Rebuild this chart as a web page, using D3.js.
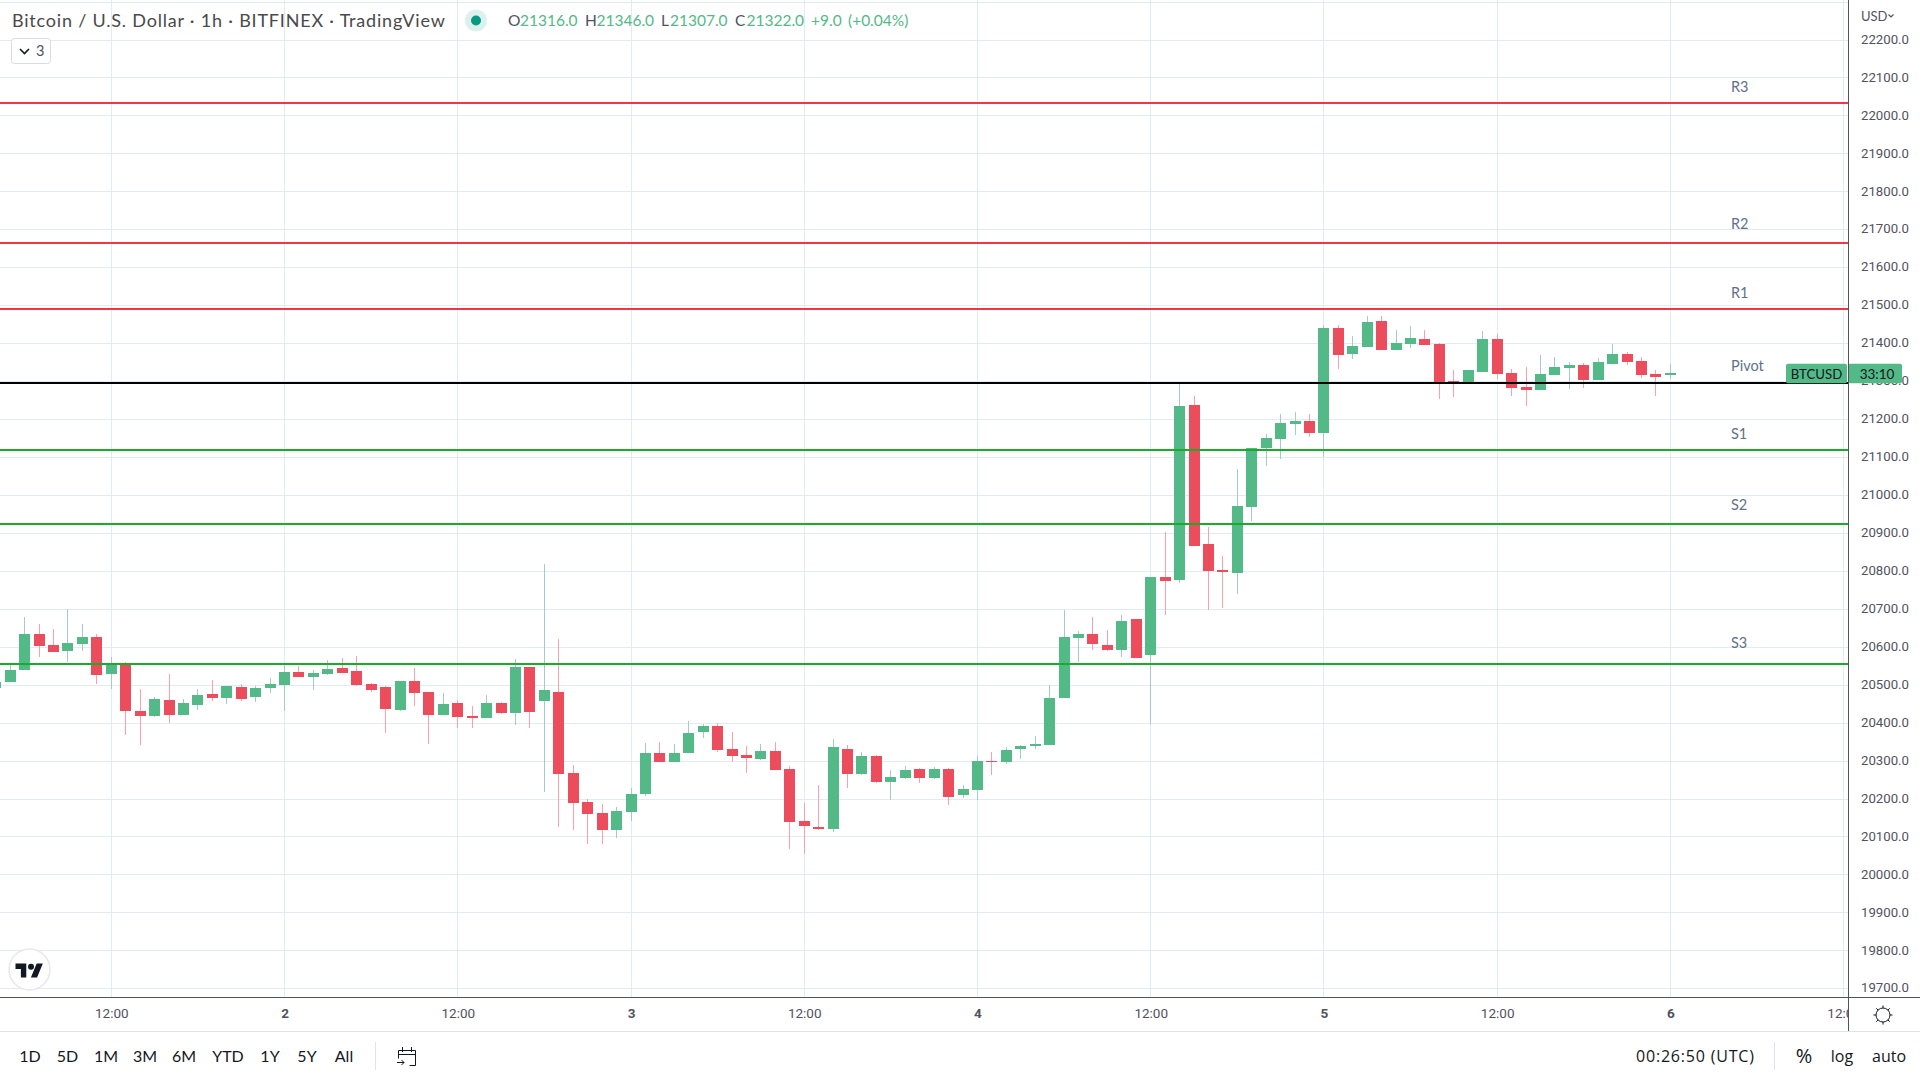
<!DOCTYPE html>
<html>
  <head>
    <meta charset="utf-8">
    <title>BTCUSD</title>
    <script src="https://d3js.org/d3.v7.min.js"></script>
    <style>
      html, body { margin: 0; padding: 0; background: #fff; overflow: hidden; }
      svg { display: block; }
      text { font-family: Lato, sans-serif; }
    </style>
  </head>
  <body>
  <svg width="1920" height="1080"></svg>
  <script>

  // hourly candles, hour 0 = day 1 00:00
  var firstHour = 4;
  var opens = [20493,20508,20540,20635,20606,20590,20608,20627,20529,20553,20432,20419,20461,20421,20448,20477,20466,20495,20469,20493,20500,20535,20521,20529,20545,20537,20503,20495,20435,20511,20482,20421,20453,20419,20413,20453,20427,20548,20458,20482,20269,20192,20163,20118,20166,20213,20321,20298,20321,20377,20392,20332,20316,20305,20327,20279,20142,20126,20121,20332,20266,20313,20245,20255,20279,20255,20279,20211,20224,20300,20298,20332,20340,20342,20466,20624,20635,20606,20593,20674,20579,20785,20777,21238,20872,20803,20796,20969,21125,21149,21188,21196,21164,21441,21373,21391,21460,21383,21399,21412,21399,21302,21299,21325,21412,21323,21286,21278,21317,21336,21344,21304,21346,21373,21354,21320,21316];
  var highs = [20508,20553,20680,20661,20648,20701,20661,20635,20574,20561,20490,20469,20529,20464,20490,20514,20498,20503,20498,20519,20553,20550,20540,20566,20572,20577,20506,20498,20511,20545,20482,20479,20461,20445,20474,20456,20569,20548,20819,20622,20290,20200,20187,20179,20229,20348,20350,20345,20406,20398,20400,20377,20340,20345,20350,20287,20190,20237,20358,20342,20324,20316,20276,20287,20282,20284,20282,20237,20313,20324,20337,20342,20366,20500,20698,20643,20680,20645,20685,20674,20785,20904,21295,21262,20917,20840,21070,21125,21162,21214,21220,21214,21449,21449,21420,21473,21473,21436,21446,21436,21402,21331,21331,21433,21425,21333,21338,21370,21365,21352,21349,21362,21399,21378,21365,21331,21346];
  var lows = [20493,20508,20540,20574,20587,20561,20590,20503,20490,20369,20342,20416,20400,20421,20435,20458,20450,20458,20456,20479,20432,20521,20487,20527,20532,20498,20482,20374,20432,20445,20345,20421,20387,20387,20413,20424,20395,20387,20219,20126,20118,20082,20082,20097,20142,20208,20298,20298,20321,20361,20324,20298,20269,20303,20276,20068,20055,20118,20113,20229,20263,20242,20197,20253,20242,20253,20184,20203,20197,20263,20292,20305,20332,20342,20466,20561,20593,20590,20574,20572,20398,20685,20769,20867,20698,20703,20740,20933,21077,21096,21159,21154,21101,21333,21359,21391,21383,21383,21388,21396,21254,21259,21299,21325,21307,21262,21236,21278,21317,21280,21283,21304,21346,21344,21309,21262,21307];
  var closes = [20508,20540,20635,20603,20587,20611,20627,20527,20556,20432,20419,20464,20421,20453,20474,20466,20498,20464,20493,20503,20535,20521,20532,20543,20532,20500,20487,20437,20511,20479,20421,20450,20416,20413,20453,20427,20548,20429,20487,20266,20190,20161,20118,20168,20213,20321,20298,20321,20374,20392,20329,20313,20308,20327,20276,20139,20129,20121,20337,20266,20313,20245,20258,20276,20255,20279,20205,20226,20300,20298,20329,20340,20345,20466,20627,20635,20608,20593,20669,20572,20785,20774,21236,20867,20801,20798,20972,21125,21151,21191,21196,21164,21441,21370,21394,21457,21383,21402,21415,21396,21299,21299,21331,21412,21320,21283,21278,21320,21338,21344,21304,21352,21373,21352,21317,21312,21322];

  var priceTicks = [19700,19800,19900,20000,20100,20200,20300,20400,20500,20600,20700,20800,20900,21000,21100,21200,21300,21400,21500,21600,21700,21800,21900,22000,22100,22200];
  var gridTopPrice = 22300;
  var timeTicks = [12,24,36,48,60,72,84,96,108,120,132];
  var timeLabels = ["12:00","2","12:00","3","12:00","4","12:00","5","12:00","6","12:00"];

  var levelNames = ["R3","R2","R1","Pivot","S1","S2","S3"];
  var levelPrices = [22034,21666,21491,21296,21120,20925,20556];
  var levelLabelPrices = [22076,21715,21533,21341,21162,20975,20611];
  var levelColors = ["#f23645","#f23645","#f23645","#000000","#1aab2a","#1aab2a","#1aab2a"];

  var rangeButtons = ["1D","5D","1M","3M","6M","YTD","1Y","5Y","All"];
  var rangeCenters = [30,67.5,106,145,184,228,270,307,344];

  var up = "#53b987", down = "#eb4d5c", upWick = "#a3cbc9", downWick = "#f7a1ad";
  var gridColor = "#e1ecf2", axisColor = "#50535e", textColor = "#4a4a4a";

  var plotRight = 1848, plotBottom = 997;

  var svg = d3.select("svg");

  var x = d3.scaleLinear().domain([12, 120]).range([111.3, 1670.4]);
  var y = d3.scaleLinear().domain([19700, 22200]).range([988.75, 40]);

  svg.append("clipPath").attr("id", "plot")
    .append("rect").attr("width", plotRight).attr("height", plotBottom);
  svg.append("clipPath").attr("id", "timeaxis")
    .append("rect").attr("y", plotBottom).attr("width", plotRight).attr("height", 40);

  var plot = svg.append("g").attr("clip-path", "url(#plot)");

  // grid
  var grid = plot.append("g").attr("shape-rendering", "crispEdges");
  grid.selectAll(".h").data(priceTicks.concat([gridTopPrice])).enter().append("line")
    .attr("x1", 0).attr("x2", plotRight)
    .attr("y1", function(d) { return Math.floor(y(d)) + 0.5; })
    .attr("y2", function(d) { return Math.floor(y(d)) + 0.5; })
    .attr("stroke", gridColor);
  grid.selectAll(".v").data(timeTicks).enter().append("line")
    .attr("y1", 0).attr("y2", plotBottom)
    .attr("x1", function(d) { return Math.floor(x(d)) + 0.5; })
    .attr("x2", function(d) { return Math.floor(x(d)) + 0.5; })
    .attr("stroke", gridColor);

  // candles
  var candles = plot.append("g").attr("shape-rendering", "crispEdges");
  var bars = opens.map(function(o, i) {
    return {hour: firstHour + i, o: o, h: highs[i], l: lows[i], c: closes[i]};
  });
  candles.selectAll(".wick").data(bars).enter().append("rect")
    .attr("x", function(d) { return Math.floor(x(d.hour)); })
    .attr("width", 1)
    .attr("y", function(d) { return y(d.h); })
    .attr("height", function(d) { return y(d.l) - y(d.h); })
    .attr("fill", function(d) { return d.c >= d.o ? upWick : downWick; });
  candles.selectAll(".body").data(bars).enter().append("rect")
    .attr("x", function(d) { return Math.floor(x(d.hour)) - 5; })
    .attr("width", 11)
    .attr("y", function(d) { return y(Math.max(d.o, d.c)); })
    .attr("height", function(d) { return Math.max(1, Math.abs(y(d.o) - y(d.c))); })
    .attr("fill", function(d) { return d.c >= d.o ? up : down; });

  // last price tag
  var lastY = y(closes[closes.length - 1]);
  svg.append("rect").attr("x", 1786).attr("y", lastY - 9.5).attr("width", 61).attr("height", 19.5)
    .attr("rx", 2).attr("fill", up);

  // price axis
  var priceAxis = d3.axisRight(y).tickValues(priceTicks).tickSize(0).tickPadding(0).tickFormat(d3.format(".1f"));
  var pa = svg.append("g").attr("transform", "translate(1861,-1)").call(priceAxis);
  pa.select(".domain").remove();
  pa.selectAll("text").style("font-family", "Roboto").style("font-size", "13.2px").attr("fill", axisColor);

  svg.append("rect").attr("x", 1848).attr("y", lastY - 9.5).attr("width", 54).attr("height", 19.5)
    .attr("rx", 2).attr("fill", up);
  svg.append("text").attr("x", 1816.5).attr("y", lastY + 5.5).attr("text-anchor", "middle")
    .style("font-size", "13.2px").attr("fill", "#131722").text("BTCUSD");
  svg.append("text").attr("x", 1877).attr("y", lastY + 5.5).attr("text-anchor", "middle")
    .style("font-size", "13.5px").attr("fill", "#131722").text("33:10");

  // pivot levels
  plot.selectAll(".level").data(levelPrices).enter().append("line")
    .attr("shape-rendering", "crispEdges")
    .attr("x1", 0).attr("x2", plotRight)
    .attr("y1", function(d) { return Math.round(y(d)); })
    .attr("y2", function(d) { return Math.round(y(d)); })
    .attr("stroke-width", 2)
    .attr("stroke", function(d, i) { return levelColors[i]; });
  svg.selectAll(".levelname").data(levelNames).enter().append("text")
    .attr("x", 1731)
    .attr("y", function(d, i) { return y(levelLabelPrices[i]) + 5; })
    .style("font-size", "14.5px")
    .attr("fill", "#5f7188")
    .text(function(d) { return d; });

  // time axis
  var timeAxis = d3.axisBottom(x).tickValues(timeTicks).tickSize(0).tickPadding(0)
    .tickFormat(function(d, i) { return timeLabels[i]; });
  var ta = svg.append("g").attr("clip-path", "url(#timeaxis)")
    .append("g").attr("transform", "translate(0,1008)").call(timeAxis);
  ta.select(".domain").remove();
  ta.selectAll("text").style("font-family", "Roboto").style("font-size", "13.5px")
    .attr("fill", axisColor)
    .style("font-weight", function(d, i) { return timeLabels[i].length == 1 ? "700" : "400"; });

  // frame
  var frame = svg.append("g").attr("shape-rendering", "crispEdges");
  frame.append("line").attr("x1", 0).attr("x2", 1920).attr("y1", 997.5).attr("y2", 997.5).attr("stroke", axisColor);
  frame.append("line").attr("x1", 1848.5).attr("x2", 1848.5).attr("y1", 0).attr("y2", 1031).attr("stroke", axisColor);
  frame.append("line").attr("x1", 0).attr("x2", 1920).attr("y1", 1031.5).attr("y2", 1031.5).attr("stroke", "#e0e3eb");
  frame.append("line").attr("x1", 375.5).attr("x2", 375.5).attr("y1", 1042).attr("y2", 1070).attr("stroke", "#e0e3eb");
  frame.append("line").attr("x1", 1774.5).attr("x2", 1774.5).attr("y1", 1042).attr("y2", 1070).attr("stroke", "#e0e3eb");

  // header
  svg.append("text").attr("x", 12).attr("y", 27).style("font-size", "18px").style("letter-spacing", "0.8px").attr("fill", textColor)
    .text("Bitcoin / U.S. Dollar \u00b7 1h \u00b7 BITFINEX \u00b7 TradingView");
  svg.append("circle").attr("cx", 476).attr("cy", 20.5).attr("r", 11).attr("fill", "#dcf1ee");
  svg.append("circle").attr("cx", 476).attr("cy", 20.5).attr("r", 5).attr("fill", "#089981");

  var legendTexts = ["O","21316.0","H","21346.0","L","21307.0","C","21322.0","+9.0","(+0.04%)"];
  var legendX = [508,520,585,596.5,661,670,735,746.5,811,848];
  var legendFill = [axisColor,up,axisColor,up,axisColor,up,axisColor,up,up,up];
  svg.selectAll(".legend").data(legendTexts).enter().append("text")
    .attr("x", function(d, i) { return legendX[i]; })
    .attr("y", 26)
    .style("font-size", "15.5px")
    .attr("fill", function(d, i) { return legendFill[i]; })
    .text(function(d) { return d; });

  svg.append("rect").attr("x", 11.5).attr("y", 38.5).attr("width", 39).attr("height", 25).attr("rx", 3)
    .attr("fill", "#fff").attr("stroke", "#d6dce4");
  svg.append("path").attr("d", "M20 49l4.5 4.5 4.5-4.5").attr("fill", "none").attr("stroke", "#131722").attr("stroke-width", 1.6);
  svg.append("text").attr("x", 36).attr("y", 56).style("font-size", "14.5px").attr("fill", axisColor).text("3");

  // USD
  svg.append("text").attr("x", 1861).attr("y", 21).style("font-size", "13px").attr("fill", axisColor).text("USD");
  svg.append("path").attr("d", "M1888.5 14.5l2.5 2.5 2.5-2.5").attr("fill", "none").attr("stroke", axisColor).attr("stroke-width", 1.2);

  // logo
  svg.append("circle").attr("cx", 29.5).attr("cy", 969.5).attr("r", 20.5).attr("fill", "#fff").attr("stroke", "#e8e8e8").attr("stroke-width", 1.5);
  svg.append("g").attr("transform", "translate(15.5,960.5) scale(0.77)").append("path")
    .attr("d", "M14 22H7V11H0V4h14v18zM28 22h-8l7.5-18h8L28 22z").attr("fill", "#131722");
  svg.append("circle").attr("cx", 31).attr("cy", 966.7).attr("r", 3).attr("fill", "#131722");

  // bottom toolbar
  svg.selectAll(".range").data(rangeButtons).enter().append("text")
    .attr("x", function(d, i) { return rangeCenters[i]; })
    .attr("y", 1062)
    .attr("text-anchor", "middle")
    .style("font-size", "16px")
    .attr("fill", "#131722")
    .text(function(d) { return d; });

  var cal = svg.append("g").attr("fill", "none").attr("stroke", "#131722").attr("stroke-width", 1);
  cal.append("path").attr("d", "M398.5 1050.5h17v15h-6M398.5 1050.5v8M402.5 1047v5M411.5 1047v5M398.5 1054.5h17");
  cal.append("path").attr("d", "M397 1062.5h7M401.5 1060l2.5 2.5-2.5 2.5");

  svg.append("text").attr("x", 1636).attr("y", 1062).style("font-size", "16px").style("letter-spacing", "0.8px").attr("fill", "#131722")
    .style("font-family", "Open Sans").text("00:26:50 (UTC)");
  svg.append("text").attr("x", 1804).attr("y", 1063).attr("text-anchor", "middle").style("font-size", "20px").attr("fill", "#131722")
    .style("font-family", "Open Sans").text("%");
  svg.append("text").attr("x", 1842).attr("y", 1062).attr("text-anchor", "middle").style("font-size", "16px").attr("fill", "#131722")
    .style("font-family", "Open Sans").text("log");
  svg.append("text").attr("x", 1889).attr("y", 1062).attr("text-anchor", "middle").style("font-size", "16px").attr("fill", "#131722")
    .style("font-family", "Open Sans").text("auto");

  // settings icon
  var gear = svg.append("g").attr("transform", "translate(1883,1015)").attr("stroke", "#131722").attr("fill", "none");
  gear.append("circle").attr("r", 7);
  d3.range(8).forEach(function(k) {
    var a = k * Math.PI / 4;
    gear.append("line").attr("x1", 7 * Math.cos(a)).attr("y1", 7 * Math.sin(a))
      .attr("x2", 9.5 * Math.cos(a)).attr("y2", 9.5 * Math.sin(a));
  });

  </script>
  </body>
</html>
